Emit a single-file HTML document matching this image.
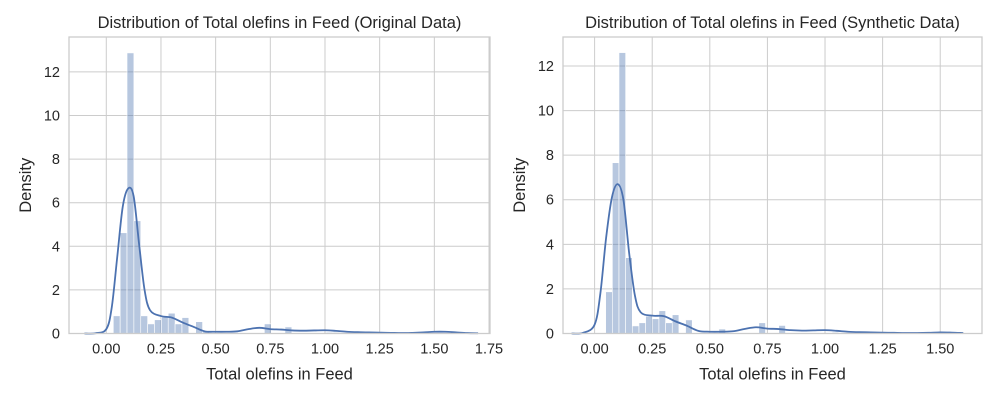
<!DOCTYPE html>
<html><head><meta charset="utf-8"><style>
html,body{margin:0;padding:0;background:#fff;}
svg{display:block;font-family:"Liberation Sans",Arial,sans-serif;}
</style></head><body>
<svg id="fig" width="1000" height="400" viewBox="0 0 1000 400" xmlns="http://www.w3.org/2000/svg"></svg>
<script>
// Left (original) data
const leftBinStart = 0.032;
const leftBinWidth = 0.0314;
const leftBars = [0.81,4.62,12.87,5.17,0.81,0.44,0.63,0.76,0.93,0.44,0.73,0,0.54,0.1,0,0,0,0,0,0,0,0,0.44,0,0,0.3,0,0,0,0,0,0.05,0.05,0,0,0,0,0.03,0,0,0,0,0,0,0,0,0.04,0.04,0,0];
const leftKdeX = [-0.1,-0.05,0,0.025,0.05,0.075,0.1,0.125,0.15,0.175,0.2,0.25,0.3,0.35,0.4,0.45,0.5,0.55,0.6,0.65,0.7,0.75,0.8,0.85,0.9,0.95,1.0,1.05,1.1,1.15,1.2,1.25,1.3,1.35,1.4,1.45,1.5,1.55,1.6,1.65,1.7];
const leftKdeY = [0,0.01,0.2,1.2,3.5,5.8,6.65,6.3,4.1,2.0,1.07,0.8,0.73,0.5,0.3,0.1,0.08,0.08,0.1,0.2,0.26,0.2,0.18,0.14,0.13,0.14,0.15,0.12,0.08,0.06,0.05,0.04,0.03,0.02,0.03,0.05,0.08,0.08,0.05,0.02,0.01];
// Right (synthetic) data
const rightBinStart = 0.048;
const rightBinWidth = 0.0289;
const rightBars = [1.87,7.66,12.6,3.4,0.34,0.48,0.78,0.66,1.02,0.48,0.84,0,0.61,0,0,0,0,0.2,0,0,0,0,0,0.48,0,0,0.36,0,0,0,0,0,0,0,0.05,0,0,0,0,0,0,0,0,0,0,0,0,0,0.04,0];
const rightKdeX = [-0.1,-0.05,0,0.025,0.05,0.075,0.1,0.125,0.15,0.175,0.2,0.25,0.3,0.35,0.4,0.45,0.5,0.55,0.6,0.65,0.7,0.75,0.8,0.85,0.9,0.95,1.0,1.05,1.1,1.15,1.2,1.25,1.3,1.35,1.4,1.45,1.5,1.55,1.6];
const rightKdeY = [0,0.03,0.4,1.8,4.3,6.1,6.7,6.0,3.6,1.7,0.95,0.8,0.78,0.55,0.35,0.12,0.08,0.08,0.1,0.2,0.28,0.22,0.2,0.15,0.13,0.14,0.15,0.12,0.08,0.06,0.05,0.04,0.03,0.02,0.02,0.03,0.05,0.04,0.02];
const yTicks = [0,2,4,6,8,10,12];
const leftXTicks = [0,0.25,0.5,0.75,1.0,1.25,1.5,1.75];
const rightXTicks = [0,0.25,0.5,0.75,1.0,1.25,1.5];
const titles = ["Distribution of Total olefins in Feed (Original Data)","Distribution of Total olefins in Feed (Synthetic Data)"];

const NS="http://www.w3.org/2000/svg";
const svg=document.getElementById('fig');
function mk(tag,attrs,parent){const e=document.createElementNS(NS,tag);for(const k in attrs)e.setAttribute(k,attrs[k]);(parent||svg).appendChild(e);return e;}
function smooth(pts){
  let d='M'+pts[0][0].toFixed(2)+','+pts[0][1].toFixed(2);
  for(let i=0;i<pts.length-1;i++){
    const p0=pts[Math.max(0,i-1)],p1=pts[i],p2=pts[i+1],p3=pts[Math.min(pts.length-1,i+2)];
    const c1x=p1[0]+(p2[0]-p0[0])/6,c1y=p1[1]+(p2[1]-p0[1])/6;
    const c2x=p2[0]-(p3[0]-p1[0])/6,c2y=p2[1]-(p3[1]-p1[1])/6;
    d+=`C${c1x.toFixed(2)},${c1y.toFixed(2)} ${c2x.toFixed(2)},${c2y.toFixed(2)} ${p2[0].toFixed(2)},${p2[1].toFixed(2)}`;
  }
  return d;
}

function panel(p){
  const g=mk('g',{});
  
  
  const sx=v=>p.x0+(v-p.xmin)/(p.xmax-p.xmin)*(p.x1-p.x0);
  const sy=v=>p.y1-(v/p.ymax)*(p.y1-p.y0);
  p.xt.forEach(t=>{const l=mk('line',{x1:sx(t),x2:sx(t),y1:p.y0,y2:p.y1,stroke:'#cccccc','stroke-width':1},g);
    });
  yTicks.forEach(t=>{const l=mk('line',{x1:p.x0,x2:p.x1,y1:sy(t),y2:sy(t),stroke:'#cccccc','stroke-width':1},g);
    });
  p.bars.forEach((h,i)=>{if(h<=0)return;
    const a=p.bs+i*p.bw;
    const r=mk('rect',{x:sx(a),y:sy(h),width:sx(a+p.bw)-sx(a),height:sy(0)-sy(h),fill:'#4c72b0','fill-opacity':0.4,stroke:'#ffffff','stroke-width':0.6},g);
    });
  const pts=p.kx.map((x,i)=>[sx(x),sy(p.ky[i])]);
  const path=mk('path',{d:smooth(pts),fill:'none',stroke:'#4c72b0','stroke-width':1.8,'stroke-linejoin':'round'},g);
  
  const fr=mk('rect',{x:p.x0,y:p.y0,width:p.x1-p.x0,height:p.y1-p.y0,fill:'none',stroke:'#cccccc','stroke-width':1.3},g);
  
  p.xt.forEach(t=>{const e=mk('text',{x:sx(t),y:p.y1+20,'text-anchor':'middle','font-size':14.5,fill:'#262626'},g);e.textContent=t.toFixed(2);
    });
  yTicks.forEach(t=>{const e=mk('text',{x:p.x0-9,y:sy(t)+5,'text-anchor':'end','font-size':14.5,fill:'#262626'},g);e.textContent=t;
    });
  const tt=mk('text',{x:(p.x0+p.x1)/2,y:p.y0-9,'text-anchor':'middle','font-size':16.5,fill:'#262626'},g);tt.textContent=p.title;
  
  const xl=mk('text',{x:(p.x0+p.x1)/2,y:p.y1+46,'text-anchor':'middle','font-size':16.5,fill:'#262626'},g);xl.textContent='Total olefins in Feed';
  
  const yl=mk('text',{x:0,y:0,'text-anchor':'middle','font-size':16.5,fill:'#262626',transform:`translate(${p.x0-38},${(p.y0+p.y1)/2}) rotate(-90)`},g);yl.textContent='Density';
  
}
panel({name:'original-data-chart',x0:69,x1:490,y0:37,y1:333.5,xmin:-0.1705,xmax:1.7545,ymax:13.6,xt:leftXTicks,bars:leftBars,bs:leftBinStart,bw:leftBinWidth,kx:leftKdeX,ky:leftKdeY,title:titles[0]});
panel({name:'synthetic-data-chart',x0:563,x1:982,y0:37,y1:333.5,xmin:-0.1372,xmax:1.6813,ymax:13.3,xt:rightXTicks,bars:rightBars,bs:rightBinStart,bw:rightBinWidth,kx:rightKdeX,ky:rightKdeY,title:titles[1]});
</script>
</body></html>
